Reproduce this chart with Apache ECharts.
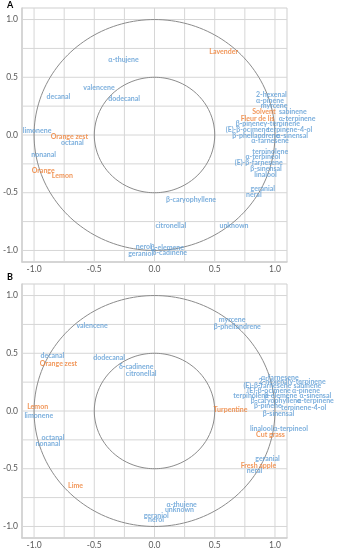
<!DOCTYPE html>
<html><head><meta charset="utf-8">
<script src="https://cdn.jsdelivr.net/npm/echarts@6/dist/echarts.min.js"></script>
<style>html,body{margin:0;padding:0;background:#fff}#c{width:339px;height:550px}</style>
</head><body><div id="c"></div>
<script>
// ---- tick / grid values ----
const tickLabels = [-1.0, -0.5, 0.0, 0.5, 1.0];
const gridValues = [-1, -0.75, -0.5, -0.25, 0, 0.25, 0.5, 0.75, 1];
const axisRange = [-1.1, 1.1];
const circleRadii = [1, 0.5];

// ---- Panel A: compounds (blue) ----
const aCompNames = ['α-thujene','valencene','decanal','dodecanal','limonene','octanal','nonanal',
  '2-hexenal','α-pinene','myrcene','sabinene','α-terpinene','β-pinene','γ-terpinene','(E)-β-ocimene',
  'terpinene-4-ol','β-phellandrene','α-sinensal','α-farnesene','terpinolene','α-terpineol',
  '(E)-β-farnesene','β-sinensal','linalool','geranial','neral','β-caryophyllene','unknown',
  'citronellal','nerol','β-elemene','geraniol','δ-cadinene'];
const aCompX = [-0.257,-0.461,-0.798,-0.252,-0.975,-0.682,-0.921,
  0.970,0.959,0.993,1.148,1.184,0.789,1.055,0.772,
  1.123,0.842,1.143,0.959,0.961,0.900,
  0.865,0.926,0.922,0.899,0.825,0.303,0.660,
  0.135,-0.090,0.107,-0.115,0.127];
const aCompY = [0.655,0.405,0.330,0.310,0.034,-0.066,-0.170,
  0.345,0.299,0.253,0.198,0.144,0.095,0.095,0.049,
  0.049,-0.006,-0.006,-0.052,-0.149,-0.192,
  -0.239,-0.293,-0.342,-0.463,-0.515,-0.563,-0.782,
  -0.789,-0.968,-0.980,-1.026,-1.023];
// ---- Panel A: sensory (orange) ----
const aSensNames = ['Lavender','Solvent','Fleur de lis','Orange zest','Orange','Lemon'];
const aSensX = [0.574,0.908,0.855,-0.707,-0.924,-0.765];
const aSensY = [0.718,0.201,0.141,-0.011,-0.313,-0.356];

// ---- Panel B: compounds (blue) ----
const bCompNames = ['valencene','decanal','dodecanal','δ-cadinene','citronellal','myrcene','β-phellandrene',
  'limonene','octanal','nonanal','geraniol','nerol','α-thujene','unknown',
  'α-farnesene','2-hexenal','γ-terpinene','(E)-β-farnesene','sabinene','(E)-β-ocimene','α-pinene',
  'terpinolene','β-elemene','α-sinensal','β-caryophyllene','α-terpinene','β-pinene','terpinene-4-ol',
  'β-sinensal','linalool','α-terpineol','geranial','neral'];
const bCompX = [-0.518,-0.848,-0.377,-0.152,-0.111,0.645,0.687,
  -0.961,-0.843,-0.885,0.014,0.012,0.225,0.207,
  1.041,0.992,1.270,0.937,1.270,0.951,1.258,
  0.802,1.048,1.336,1.008,1.336,0.941,1.238,
  1.029,0.887,1.130,0.939,0.830];
const bCompY = [0.735,0.477,0.459,0.382,0.322,0.790,0.733,
  -0.041,-0.235,-0.282,-0.905,-0.942,-0.808,-0.851,
  0.289,0.254,0.254,0.216,0.216,0.172,0.172,
  0.129,0.129,0.129,0.086,0.086,0.043,0.026,
  -0.022,-0.153,-0.153,-0.416,-0.517];
// ---- Panel B: sensory (orange) ----
const bSensNames = ['Orange zest','Lemon','Lime','Turpentine','Cut grass','Fresh apple'];
const bSensX = [-0.797,-0.970,-0.656,0.631,0.963,0.863];
const bSensY = [0.411,0.037,-0.647,0.009,-0.207,-0.472];

const BLUE = '#5b9bd5', ORANGE = '#ed7d31';
const FONT = 'Lato';

function circle(r){
  const pts=[];
  for(let i=0;i<=360;i+=2){const t=i*Math.PI/180;pts.push([r*Math.cos(t),r*Math.sin(t)]);}
  return pts;
}
function labelSeries(idx,names,xs,ys,color){
  return {type:'scatter',xAxisIndex:idx,yAxisIndex:idx,symbolSize:0,clip:false,z:5,silent:true,
    data:names.map((n,i)=>({name:n,value:[xs[i],ys[i]]})),
    label:{show:true,position:'inside',formatter:p=>p.name,color:color,fontFamily:FONT,fontSize:7,fontWeight:'bold'}};
}
function gridLine(idx,data){
  return {type:'line',xAxisIndex:idx,yAxisIndex:idx,data:data,showSymbol:false,symbol:'none',z:1,silent:true,
    lineStyle:{color:'#d6d6d6',width:1}};
}
function panelSeries(idx){
  const s=[];
  gridValues.forEach(v=>{
    s.push(gridLine(idx,[[v,axisRange[0]],[v,axisRange[1]]]));
    s.push(gridLine(idx,[[axisRange[0],v],[axisRange[1],v]]));
  });
  circleRadii.forEach(r=>s.push({type:'line',xAxisIndex:idx,yAxisIndex:idx,data:circle(r),showSymbol:false,symbol:'none',
      z:2,silent:true,lineStyle:{color:'#8c8c8c',width:1}}));
  return s;
}
function xAxis(idx){
  return {gridIndex:idx,type:'value',min:axisRange[0],max:axisRange[1],
    axisLine:{show:true,onZero:false,lineStyle:{color:'#d0d0d0',width:1.5}},
    axisTick:{show:false},splitLine:{show:false},
    axisLabel:{customValues:tickLabels,formatter:v=>v.toFixed(1),fontFamily:FONT,fontSize:8.5,color:'#595959',margin:3}};
}
function yAxis(idx){
  return {gridIndex:idx,type:'value',min:axisRange[0],max:axisRange[1],
    axisLine:{show:true,onZero:false,lineStyle:{color:'#d0d0d0',width:1.5}},
    axisTick:{show:false},splitLine:{show:false},
    axisLabel:{customValues:tickLabels,formatter:v=>v.toFixed(1),fontFamily:FONT,fontSize:8.5,color:'#595959',margin:4}};
}
const chart = echarts.init(document.getElementById('c'),null,{renderer:'canvas'});
chart.setOption({
  animation:false,
  backgroundColor:'#fff',
  grid:[
    {left:20,top:8,width:267,height:254,show:true,borderColor:'#cfcfcf',borderWidth:1,backgroundColor:'transparent'},
    {left:20,top:284,width:267,height:254,show:true,borderColor:'#cfcfcf',borderWidth:1,backgroundColor:'transparent'}
  ],
  xAxis:[xAxis(0),xAxis(1)],
  yAxis:[yAxis(0),yAxis(1)],
  graphic:[
    {type:'text',left:7,top:1,style:{text:'A',font:'bold 9px Lato',fill:'#000'}},
    {type:'text',left:7,top:273,style:{text:'B',font:'bold 9px Lato',fill:'#000'}}
  ],
  series:[].concat(panelSeries(0),panelSeries(1),[
    labelSeries(0,aCompNames,aCompX,aCompY,BLUE),
    labelSeries(0,aSensNames,aSensX,aSensY,ORANGE),
    labelSeries(1,bCompNames,bCompX,bCompY,BLUE),
    labelSeries(1,bSensNames,bSensX,bSensY,ORANGE)
  ])
});
</script></body></html>
